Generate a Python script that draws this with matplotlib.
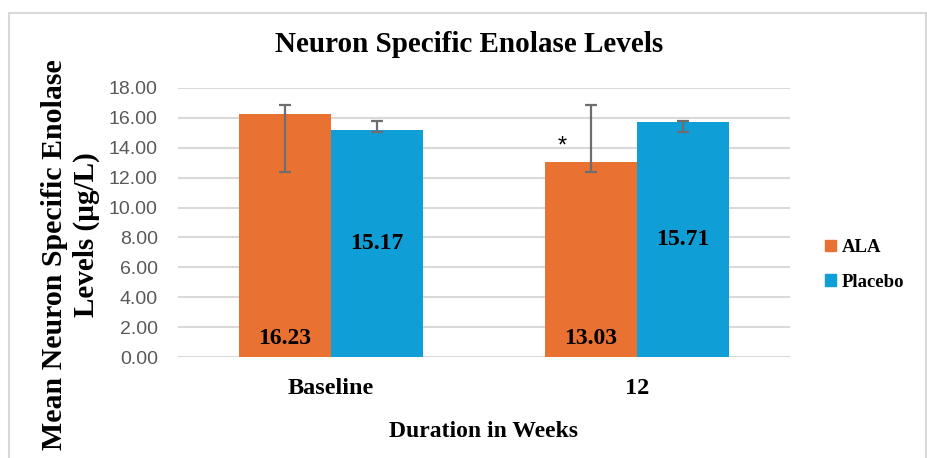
import matplotlib
matplotlib.use("Agg")
import matplotlib.pyplot as plt
from matplotlib.patches import Rectangle, Patch
import numpy as np

categories = ["Baseline", "12"]
series_names = ["ALA", "Placebo"]
ala_values = [16.23, 13.03]
placebo_values = [15.17, 15.71]
# error bar extents (absolute lower / upper ends)
ala_err_low = [12.37, 12.37]
ala_err_high = [16.87, 16.87]
placebo_err_low = [15.04, 15.04]
placebo_err_high = [15.82, 15.82]
y_ticks = [0, 2, 4, 6, 8, 10, 12, 14, 16, 18]

ORANGE = "#E97132"
BLUE = "#0F9ED5"
SERIF = "Liberation Serif"
SANS = "Liberation Sans"

fig = plt.figure(figsize=(9.28, 4.58), dpi=100)
ax = fig.add_axes([178/928, 1-357/458, (790-178)/928, (357-88)/458])

x = np.arange(len(categories))
w = 0.30
xa = x - w/2
xp = x + w/2
ax.bar(xa, ala_values, width=w, color=ORANGE, zorder=2, label=series_names[0])
ax.bar(xp, placebo_values, width=w, color=BLUE, zorder=2, label=series_names[1])

ala_v = np.array(ala_values)
pl_v = np.array(placebo_values)
ax.errorbar(xa, ala_v, yerr=[ala_v - np.array(ala_err_low), np.array(ala_err_high) - ala_v],
            fmt="none", ecolor="#6E6E6E", elinewidth=1.6, capsize=4, capthick=1.6, zorder=3)
ax.errorbar(xp, pl_v, yerr=[pl_v - np.array(placebo_err_low), np.array(placebo_err_high) - pl_v],
            fmt="none", ecolor="#6E6E6E", elinewidth=1.6, capsize=4, capthick=1.6, zorder=3)

for xi, v in zip(xa, ala_values):
    ax.annotate(f"{v:.2f}", (xi, 0), xytext=(0, 6), textcoords="offset points",
                ha="center", va="bottom", family=SERIF, fontweight="bold", fontsize=17, zorder=4)
for xi, v in zip(xp, placebo_values):
    ax.text(xi, v/2, f"{v:.2f}", ha="center", va="center",
            family=SERIF, fontweight="bold", fontsize=17, zorder=4)

# significance marker
ax.text(xa[1] - 0.095, 14.1, "*", ha="center", va="center", fontsize=17, family=SANS, zorder=4)

ax.set_xlim(-0.5, 1.5)
ax.set_ylim(0, 18)
ax.set_yticks(y_ticks)
ax.set_yticklabels([f"{t:.2f}" for t in y_ticks], family=SANS, fontsize=14, color="#595959")
ax.set_xticks(x)
ax.set_xticklabels(categories, family=SERIF, fontweight="bold", fontsize=17.5)
ax.tick_params(axis="both", length=0)
ax.tick_params(axis="y", pad=14.5)
ax.tick_params(axis="x", pad=15)
ax.grid(axis="y", color="#D9D9D9", linewidth=1.5, zorder=0)
ax.set_axisbelow(True)
for s in ax.spines.values():
    s.set_visible(False)

ax.set_xlabel("Duration in Weeks", family=SERIF, fontweight="bold", fontsize=17, labelpad=16)
fig.text(469/928, 1-44/458, "Neuron Specific Enolase Levels", ha="center", va="center",
         family=SERIF, fontweight="bold", fontsize=21)
fig.text(55/928, 1-255/458, "Mean Neuron Specific Enolase", ha="center", va="center",
         rotation=90, family=SERIF, fontweight="bold", fontsize=21.5)
fig.text(86/928, 1-235/458, "Levels (µg/L)", ha="center", va="center",
         rotation=90, family=SERIF, fontweight="bold", fontsize=21)

handles = [Patch(color=ORANGE), Patch(color=BLUE)]
leg = fig.legend(handles, series_names, loc="center left", bbox_to_anchor=(825/928, 1-265/458),
                 frameon=False, prop={"family": SERIF, "weight": "bold", "size": 13.5},
                 handlelength=0.6, handleheight=0.6, handletextpad=0.3, labelspacing=0.95,
                 borderpad=0, borderaxespad=0)

fig.add_artist(Rectangle((9.5/928, -0.05), (926-9.5)/928, 1.05 - 13/458, transform=fig.transFigure,
                         fill=False, edgecolor="#D9D9D9", linewidth=1.5))

fig.savefig("out.png", dpi=100)
